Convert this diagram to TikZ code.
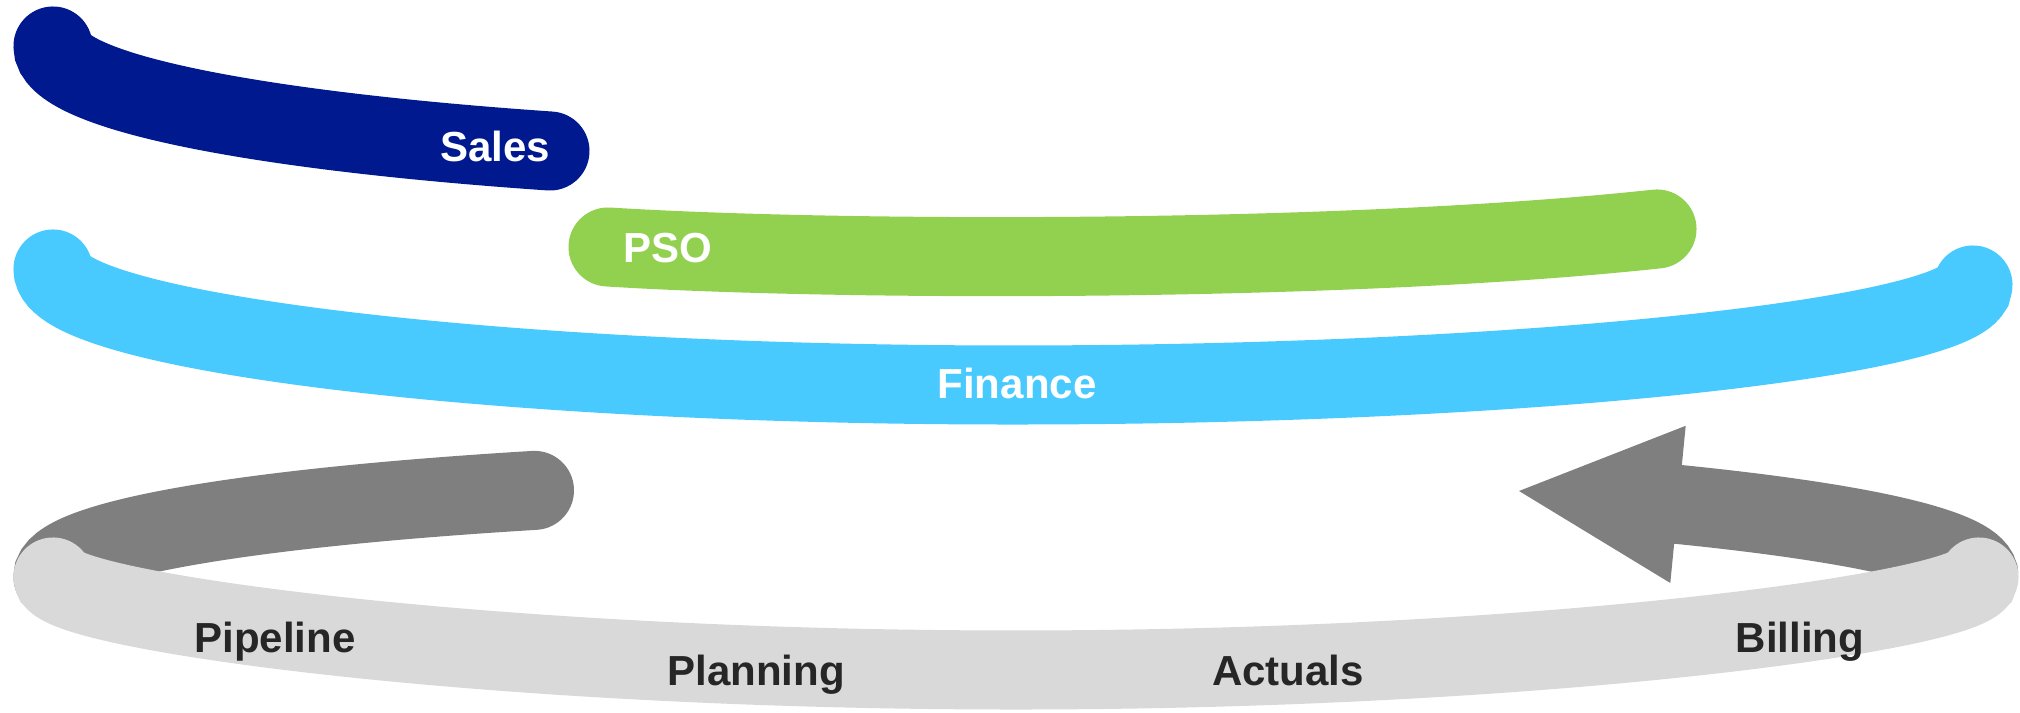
\documentclass[tikz,border=0pt]{standalone}
\usepackage{fontspec}
\setmainfont{Liberation Sans}
\definecolor{salesblue}{RGB}{0,25,143}
\definecolor{psogreen}{RGB}{146,208,80}
\definecolor{financeblue}{RGB}{72,202,255}
\definecolor{cycledark}{RGB}{127,127,127}
\definecolor{cyclelight}{RGB}{217,217,217}
\definecolor{labeldark}{RGB}{38,38,38}
\begin{document}
\begin{tikzpicture}[x=0.01cm, y=-0.01cm,
  band/.style={line width=0.79cm, line cap=round},
  lbl/.style={font=\bfseries\fontsize{11.95}{14}\selectfont, anchor=base, inner sep=0pt},
  lightlbl/.style={lbl, text=white},
  darklbl/.style={lbl, text=labeldark}]
\useasboundingbox (0,0) rectangle (2020,713);

% ---- cycle: back arcs (dark) ----
\coordinate (pipeStart) at (53,577);
\coordinate (pipeEnd) at (534.5,490.4);
\draw[band, draw=cycledark] (pipeStart) .. controls (53,541) and (236.5,508.3) .. (pipeEnd);

\coordinate (billStart) at (1979,577);
\coordinate (billHead) at (1668,503.4);
\draw[band, line cap=butt, draw=cycledark] (billStart) .. controls (1979,549.5) and (1868,523) .. (billHead);
\coordinate (headTop) at (1685.7,425.8);
\coordinate (headTip) at (1519,491);
\coordinate (headBot) at (1670.3,583);
\fill[cycledark] (headTop) -- (headTip) -- (headBot) -- cycle;

% ---- cycle: front arc (light) ----
\coordinate (cycBottom) at (1016,670);
\draw[band, draw=cyclelight] (pipeStart) .. controls (53,610) and (480,670) .. (cycBottom)
  .. controls (1550,670) and (1979,610) .. (billStart);

% ---- Sales ----
\coordinate (salesStart) at (53,46);
\coordinate (salesEnd) at (550,151);
\draw[band, draw=salesblue] (salesStart) .. controls (53,90) and (244,130) .. (salesEnd);

% ---- PSO ----
\coordinate (psoStart) at (608,247);
\coordinate (psoEnd) at (1657,229);
\draw[band, draw=psogreen] (psoStart) .. controls (850,262) and (1350,262) .. (psoEnd);

% ---- Finance ----
\coordinate (finStart) at (53,269);
\coordinate (finBottom) at (1012,385);
\coordinate (finEnd) at (1973,285);
\draw[band, draw=financeblue] (finStart) .. controls (53,330) and (482,385) .. (finBottom)
  .. controls (1543,385) and (1973,335) .. (finEnd);

% ---- labels ----
\node[lightlbl] (sales) at (495,162) {Sales};
\node[lightlbl] (pso) at (668,263) {PSO};
\node[lightlbl] (finance) at (1017,399) {Finance};
\node[darklbl] (pipeline) at (275,653) {Pipeline};
\node[darklbl] (planning) at (756,686) {Planning};
\node[darklbl] (actuals) at (1288,686) {Actuals};
\node[darklbl] (billing) at (1800,653) {Billing};
\end{tikzpicture}
\end{document}
